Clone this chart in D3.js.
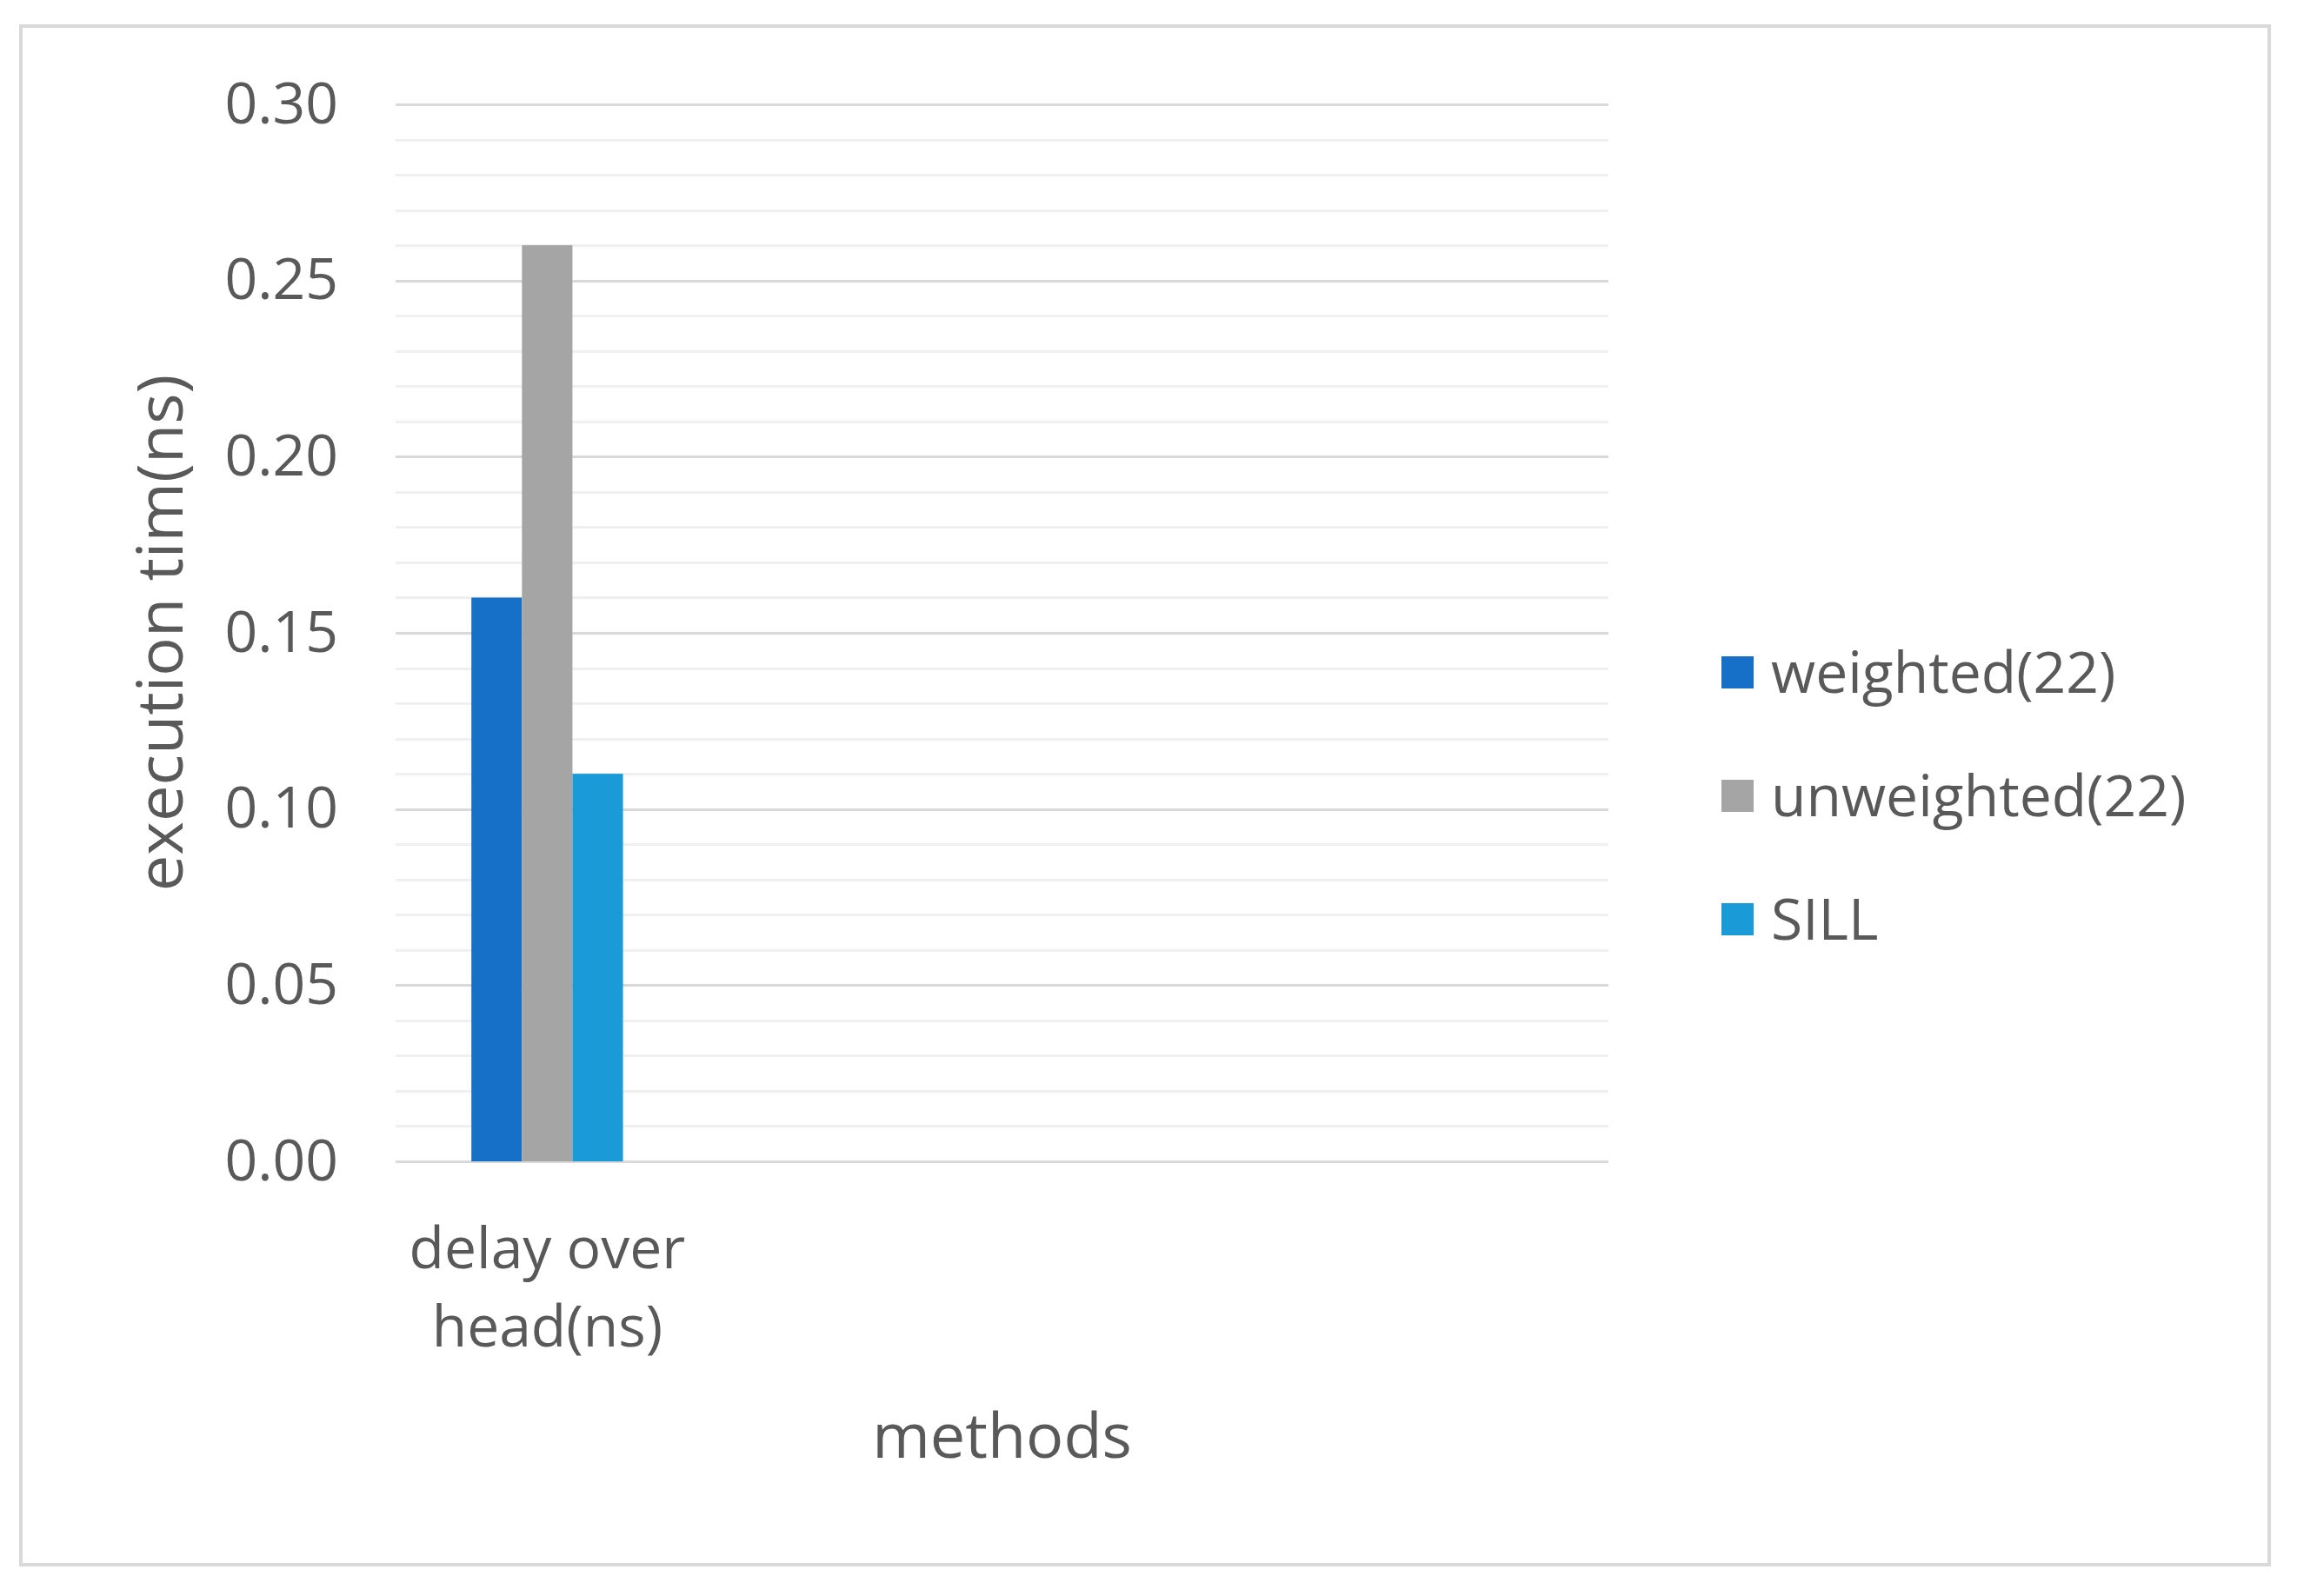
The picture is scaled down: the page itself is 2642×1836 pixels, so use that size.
<!DOCTYPE html>
<html>
<head>
<meta charset="utf-8">
<script src="https://cdn.jsdelivr.net/npm/d3@7"></script>
<style>
  html, body { margin: 0; padding: 0; background: #fff; }
  svg { display: block; font-family: "Open Sans", "Noto Sans", sans-serif; }
  .grid line { shape-rendering: crispEdges; }
</style>
</head>
<body>
<svg id="chart" width="2642" height="1836"></svg>
<script>
// chart data
const categories = ["delay over\nhead(ns)", "", "", ""];
const seriesNames = ["weighted(22)", "unweighted(22)", "SILL"];
const weighted = [0.16, null, null, null];
const unweighted = [0.26, null, null, null];
const sill = [0.11, null, null, null];
const yTicks = [0, 0.05, 0.10, 0.15, 0.20, 0.25, 0.30];
const colors = ["#1770c8", "#a5a5a5", "#1a9bd8"];

const TEXT = "#595959";
const PLOT = {left: 455, right: 1850, top: 120, bottom: 1336};

const svg = d3.select("#chart");

// outer frame
svg.append("rect")
    .attr("x", 24).attr("y", 30)
    .attr("width", 2586).attr("height", 1770)
    .attr("fill", "#fff")
    .attr("stroke", "#d9d9d9")
    .attr("stroke-width", 4);

const y = d3.scaleLinear().domain([0, 0.30]).range([PLOT.bottom, PLOT.top]);
const x0 = d3.scaleBand().domain(d3.range(categories.length)).range([PLOT.left, PLOT.right]);
const groupW = x0.bandwidth() * 0.5; // gap width 100%
const x1 = d3.scaleBand().domain(seriesNames).range([0, groupW]);

// minor gridlines every 0.01
const minorTicks = d3.range(1, 30).filter(i => i % 5 !== 0).map(i => i / 100);
svg.append("g")
    .attr("class", "grid minor")
    .attr("transform", `translate(${PLOT.left},0)`)
    .call(d3.axisLeft(y).tickValues(minorTicks).tickSize(-(PLOT.right - PLOT.left)).tickFormat(""))
    .call(g => g.select(".domain").remove())
    .call(g => g.selectAll("line").attr("stroke", "#f0f0f0").attr("stroke-width", 3));

// major gridlines
svg.append("g")
    .attr("class", "grid major")
    .attr("transform", `translate(${PLOT.left},0)`)
    .call(d3.axisLeft(y).tickValues(yTicks).tickSize(-(PLOT.right - PLOT.left)).tickFormat(""))
    .call(g => g.select(".domain").remove())
    .call(g => g.selectAll("line").attr("stroke", "#d9d9d9").attr("stroke-width", 3));

// y tick labels
svg.append("g")
    .attr("transform", `translate(${PLOT.left},0)`)
    .call(d3.axisLeft(y).tickValues(yTicks).tickSize(0).tickPadding(66).tickFormat(d3.format(".2f")))
    .call(g => g.select(".domain").remove())
    .call(g => g.selectAll("text")
        .attr("fill", TEXT)
        .attr("font-size", 66)
        .attr("font-family", "Open Sans"));

// bars
const series = [weighted, unweighted, sill];
const groups = svg.append("g").selectAll("g")
    .data(series)
    .join("g")
    .attr("fill", (d, i) => colors[i]);

groups.selectAll("rect")
    .data((vals, si) => vals.map((v, ci) => ({v, ci, name: seriesNames[si]})).filter(d => d.v != null))
    .join("rect")
    .attr("x", d => x0(d.ci) + (x0.bandwidth() - groupW) / 2 + x1(d.name))
    .attr("width", x1.bandwidth())
    .attr("y", d => y(d.v))
    .attr("height", d => y(0) - y(d.v));

// category labels
const catG = svg.append("g")
    .attr("transform", `translate(0,${PLOT.bottom})`)
    .call(d3.axisBottom(x0).tickSize(0).tickFormat(""))
    .call(g => g.select(".domain").remove());

catG.selectAll(".tick").each(function(ci) {
    const lines = categories[ci].split("\n").filter(s => s.length);
    const t = d3.select(this).select("text")
        .attr("fill", TEXT)
        .attr("font-size", 66)
        .attr("font-family", "Open Sans")
        .attr("dy", null)
        .attr("y", 0);
    lines.forEach((s, k) => {
        t.append("tspan").attr("x", 0).attr("y", 123 + k * 90).text(s);
    });
});

// axis titles
svg.append("text")
    .attr("x", (PLOT.left + PLOT.right) / 2)
    .attr("y", 1677)
    .attr("text-anchor", "middle")
    .attr("fill", TEXT)
    .attr("font-size", 72)
    .text("methods");

svg.append("text")
    .attr("transform", "translate(210,728) rotate(-90)")
    .attr("text-anchor", "middle")
    .attr("fill", TEXT)
    .attr("font-size", 74)
    .text("execution tim(ns)");

// legend
const legend = svg.append("g").attr("transform", "translate(1980,773)");
const item = legend.selectAll("g")
    .data(seriesNames)
    .join("g")
    .attr("transform", (d, i) => `translate(0,${i * 142})`);

item.append("rect")
    .attr("x", 0).attr("y", -18)
    .attr("width", 37).attr("height", 37)
    .attr("fill", (d, i) => colors[i]);

item.append("text")
    .attr("x", 57)
    .attr("dy", "0.36em")
    .attr("fill", TEXT)
    .attr("font-size", 66)
    .text(d => d);
</script>
</body>
</html>
